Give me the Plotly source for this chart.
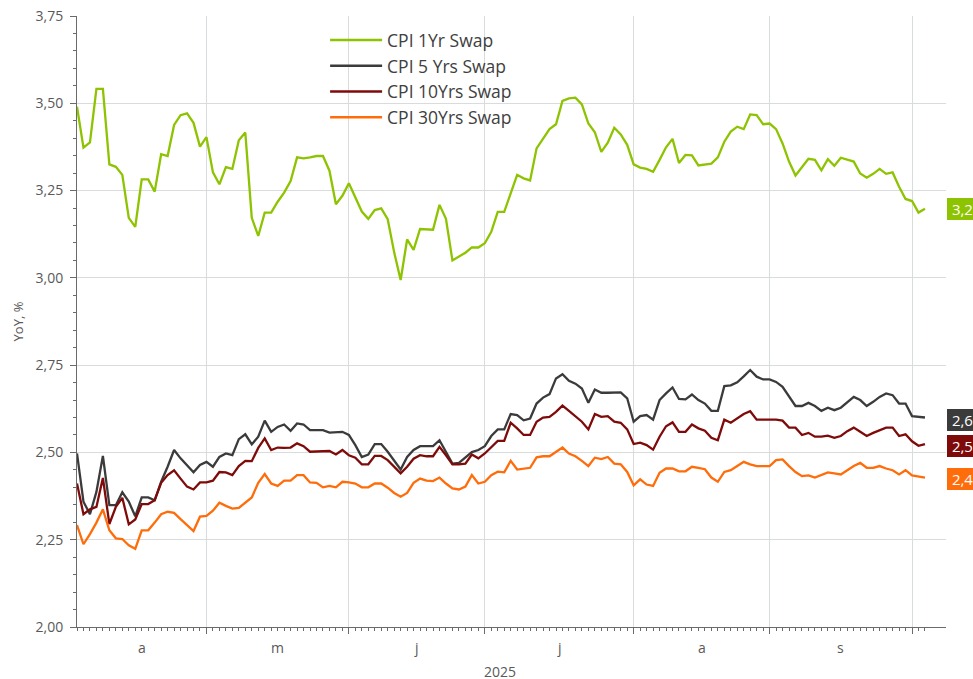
import pandas as pd
import plotly.graph_objects as go

# ---- data (business days, 2025-04-03 .. 2025-10-03) ----
dates = pd.bdate_range("2025-04-03", "2025-10-03")

cpi_1y = [3.490, 3.373, 3.388, 3.541, 3.541, 3.325, 3.318, 3.295, 3.172, 3.146,
          3.282, 3.282, 3.247, 3.354, 3.349, 3.438, 3.466, 3.471, 3.444, 3.376,
          3.403, 3.302, 3.268, 3.317, 3.312, 3.394, 3.416, 3.172, 3.120, 3.187,
          3.187, 3.218, 3.244, 3.277, 3.345, 3.342, 3.345, 3.349, 3.349, 3.307,
          3.211, 3.235, 3.271, 3.228, 3.190, 3.169, 3.194, 3.199, 3.168, 3.073,
          2.994, 3.110, 3.080, 3.140, 3.138, 3.138, 3.209, 3.169, 3.050, 3.061,
          3.072, 3.087, 3.087, 3.099, 3.132, 3.189, 3.189, 3.242, 3.295, 3.285,
          3.279, 3.371, 3.400, 3.426, 3.440, 3.507, 3.514, 3.516, 3.497, 3.442,
          3.417, 3.361, 3.387, 3.430, 3.411, 3.381, 3.325, 3.316, 3.312, 3.304,
          3.338, 3.374, 3.398, 3.329, 3.352, 3.351, 3.322, 3.324, 3.327, 3.345,
          3.390, 3.419, 3.433, 3.426, 3.468, 3.466, 3.440, 3.442, 3.426, 3.385,
          3.333, 3.293, 3.317, 3.341, 3.338, 3.308, 3.340, 3.321, 3.344, 3.338,
          3.333, 3.299, 3.287, 3.298, 3.312, 3.298, 3.302, 3.261, 3.226, 3.220,
          3.187, 3.198]

cpi_5y = [2.497, 2.359, 2.323, 2.387, 2.490, 2.349, 2.349, 2.386, 2.359, 2.317,
          2.371, 2.371, 2.363, 2.416, 2.459, 2.507, 2.483, 2.464, 2.443, 2.464,
          2.473, 2.459, 2.487, 2.497, 2.492, 2.538, 2.552, 2.523, 2.545, 2.591,
          2.559, 2.573, 2.580, 2.562, 2.583, 2.580, 2.564, 2.564, 2.564, 2.557,
          2.557, 2.559, 2.550, 2.521, 2.487, 2.494, 2.524, 2.524, 2.502, 2.475,
          2.451, 2.487, 2.507, 2.518, 2.518, 2.518, 2.535, 2.502, 2.468, 2.470,
          2.485, 2.501, 2.507, 2.518, 2.547, 2.566, 2.566, 2.610, 2.607, 2.592,
          2.597, 2.640, 2.657, 2.667, 2.712, 2.724, 2.705, 2.697, 2.683, 2.642,
          2.680, 2.671, 2.671, 2.672, 2.672, 2.655, 2.588, 2.604, 2.607, 2.594,
          2.650, 2.669, 2.686, 2.653, 2.652, 2.666, 2.650, 2.640, 2.619, 2.619,
          2.690, 2.692, 2.701, 2.718, 2.736, 2.717, 2.709, 2.709, 2.702, 2.688,
          2.661, 2.633, 2.633, 2.642, 2.633, 2.619, 2.628, 2.621, 2.628, 2.644,
          2.659, 2.650, 2.633, 2.645, 2.659, 2.669, 2.664, 2.640, 2.640, 2.604,
          2.601, 2.600]

cpi_10y = [2.411, 2.323, 2.337, 2.344, 2.427, 2.295, 2.344, 2.370, 2.294, 2.308,
           2.352, 2.352, 2.363, 2.413, 2.435, 2.449, 2.425, 2.402, 2.394, 2.414,
           2.414, 2.419, 2.444, 2.443, 2.435, 2.461, 2.476, 2.475, 2.513, 2.540,
           2.507, 2.514, 2.513, 2.514, 2.526, 2.518, 2.502, 2.502, 2.502, 2.504,
           2.494, 2.507, 2.492, 2.485, 2.466, 2.466, 2.490, 2.490, 2.478, 2.459,
           2.440, 2.459, 2.482, 2.492, 2.489, 2.489, 2.516, 2.492, 2.466, 2.466,
           2.468, 2.494, 2.483, 2.497, 2.514, 2.533, 2.533, 2.585, 2.569, 2.550,
           2.550, 2.588, 2.600, 2.602, 2.616, 2.634, 2.619, 2.604, 2.588, 2.566,
           2.610, 2.602, 2.604, 2.588, 2.585, 2.566, 2.524, 2.528, 2.521, 2.508,
           2.545, 2.575, 2.586, 2.559, 2.559, 2.580, 2.569, 2.562, 2.542, 2.535,
           2.594, 2.585, 2.597, 2.610, 2.618, 2.594, 2.594, 2.594, 2.594, 2.591,
           2.571, 2.571, 2.550, 2.556, 2.545, 2.545, 2.548, 2.542, 2.547, 2.561,
           2.571, 2.559, 2.547, 2.556, 2.564, 2.571, 2.571, 2.547, 2.552, 2.532,
           2.519, 2.524]

cpi_30y = [2.292, 2.237, 2.266, 2.299, 2.337, 2.277, 2.254, 2.252, 2.234, 2.224,
           2.277, 2.277, 2.299, 2.323, 2.330, 2.327, 2.309, 2.292, 2.275, 2.316,
           2.318, 2.333, 2.356, 2.347, 2.339, 2.341, 2.357, 2.371, 2.413, 2.438,
           2.411, 2.404, 2.419, 2.419, 2.435, 2.435, 2.414, 2.413, 2.400, 2.404,
           2.400, 2.416, 2.414, 2.411, 2.400, 2.400, 2.411, 2.411, 2.399, 2.384,
           2.373, 2.384, 2.413, 2.425, 2.419, 2.418, 2.428, 2.411, 2.397, 2.394,
           2.402, 2.435, 2.411, 2.416, 2.435, 2.445, 2.443, 2.476, 2.451, 2.454,
           2.456, 2.486, 2.489, 2.489, 2.502, 2.514, 2.497, 2.489, 2.476, 2.461,
           2.485, 2.481, 2.487, 2.468, 2.466, 2.444, 2.406, 2.423, 2.408, 2.404,
           2.442, 2.454, 2.454, 2.446, 2.446, 2.459, 2.456, 2.452, 2.428, 2.416,
           2.444, 2.449, 2.461, 2.473, 2.466, 2.461, 2.461, 2.461, 2.478, 2.480,
           2.461, 2.444, 2.432, 2.434, 2.428, 2.435, 2.443, 2.440, 2.437, 2.449,
           2.461, 2.470, 2.456, 2.456, 2.461, 2.454, 2.449, 2.437, 2.449, 2.434,
           2.432, 2.428]

series_names = ["CPI 1Yr Swap", "CPI 5 Yrs Swap", "CPI 10Yrs Swap", "CPI 30Yrs Swap"]
series_values = [cpi_1y, cpi_5y, cpi_10y, cpi_30y]
series_colors = ["#8DC300", "#3B3B3B", "#7F0A0A", "#FF6C0A"]
label_shift = [0, -2, -2, -1]

month_letters = ["a", "m", "j", "j", "a", "s"]
month_label_pos = ["2025-04-17", "2025-05-16", "2025-06-16 12:00",
                   "2025-07-16 12:00", "2025-08-15 12:00", "2025-09-16"]
year_label = "2025"

assert all(len(v) == len(dates) for v in series_values)

# first business day of each month (after the first month)
ser = pd.Series(dates, index=dates)
month_starts = ser.groupby([dates.year, dates.month]).first().tolist()[1:]

fig = go.Figure()
for name, vals, col in zip(series_names, series_values, series_colors):
    fig.add_trace(go.Scatter(x=dates, y=vals, mode="lines", name=name,
                             line=dict(color=col, width=2.3)))

font_family = "Open Sans"
axis_col = "#6b6b6b"
grid_col = "#d9dcdc"

fig.update_layout(
    width=973, height=679,
    margin=dict(l=77, r=27, t=16, b=52),
    paper_bgcolor="white", plot_bgcolor="white",
    separators=", ",
    font=dict(family=font_family, size=14, color="#595959"),
    showlegend=True,
    legend=dict(x=0.2855, y=0.99, xanchor="left", yanchor="top",
                bgcolor="rgba(0,0,0,0)", font=dict(size=17.5, color="#404040"),
                itemwidth=52, tracegroupgap=0),
)

fig.update_xaxes(
    type="date", automargin=False,
    rangebreaks=[dict(bounds=["sat", "mon"])],
    range=[dates[0], pd.Timestamp("2025-10-08 06:00")],
    tickmode="array", tickvals=month_starts, showticklabels=False,
    ticks="outside", ticklen=6, tickcolor=axis_col,
    showgrid=True, gridcolor=grid_col, gridwidth=1,
    showline=True, linecolor=axis_col, linewidth=1,
    zeroline=False,
    minor=dict(tickmode="array", tickvals=list(dates), ticks="outside",
               ticklen=3, tickcolor=axis_col, showgrid=False),
)

fig.update_yaxes(
    automargin=False,
    range=[2.0, 3.75], dtick=0.25, tick0=2.0, tickformat=".2f",
    ticks="outside", ticklen=6, tickcolor=axis_col, ticklabelstandoff=4,
    ticklabeloverflow="allow",
    showgrid=True, gridcolor=grid_col, gridwidth=1,
    showline=True, linecolor=axis_col, linewidth=1, zeroline=False,
    tickfont=dict(size=14, color="#595959"),
    minor=dict(dtick=0.05, ticks="outside", ticklen=3, tickcolor=axis_col,
               showgrid=False),
)

for txt, pos in zip(month_letters, month_label_pos):
    fig.add_annotation(x=pos, y=0, xref="x", yref="paper", text=txt,
                       showarrow=False, yanchor="top", yshift=-9,
                       font=dict(size=14, color="#595959"))

fig.add_annotation(x=0.487, y=0, xref="paper", yref="paper", text=year_label,
                   showarrow=False, yanchor="top", yshift=-33,
                   font=dict(size=14, color="#595959"))

fig.add_annotation(x=-0.068, y=0.5, xref="paper", yref="paper", text="YoY, %",
                   textangle=-90, showarrow=False, xanchor="center",
                   font=dict(size=13, color="#595959"))

for vals, col, sh in zip(series_values, series_colors, label_shift):
    last = vals[-1]
    fig.add_annotation(x=1, y=last, xref="paper", yref="y",
                       text="&nbsp;" + f"{last:.2f}".replace(".", ","),
                       showarrow=False, xanchor="left", xshift=1, yshift=sh,
                       bgcolor=col, borderpad=1, borderwidth=0,
                       font=dict(size=15, color="white"))

fig.write_html(
    "out.html",
    config={"displayModeBar": False},
    post_script="document.body.style.margin='0';document.body.style.overflow='hidden';",
)
